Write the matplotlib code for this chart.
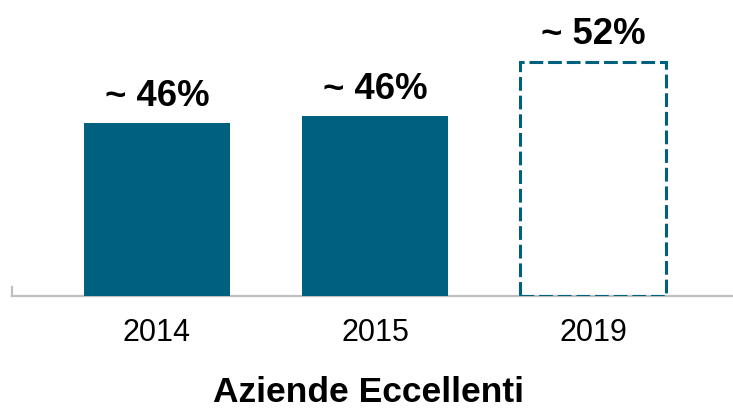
import matplotlib.pyplot as plt

plt.rcParams['font.family'] = ['Liberation Sans', 'DejaVu Sans']

years = ['2014', '2015', '2019']
values = [46.0, 46.7, 52.0]
labels = ['~ 46%', '~ 46%', '~ 52%']
projected = [False, False, True]

base = 29.3
color = '#00607F'

fig = plt.figure(figsize=(7.33, 4.10), dpi=100)
ax = fig.add_axes([12 / 733, 1 - 297 / 410, 1 - 12 / 733, 297 / 410])

x = range(len(years))
heights = [v - base for v in values]
for i, (h, proj) in enumerate(zip(heights, projected)):
    if proj:
        ax.bar(i, h, bottom=base, width=0.67, facecolor='none', edgecolor=color,
               linewidth=2.2, linestyle=(0, (4.5, 1.6)), zorder=3)
    else:
        ax.bar(i, h, bottom=base, width=0.67, color=color, zorder=3)
    ax.annotate(labels[i], (i, values[i]), xytext=(0, 13), textcoords='offset points',
                ha='center', va='baseline', fontsize=26.3, fontweight='bold')

ax.set_xlim(-0.665, 2.642)
ax.set_ylim(base, base + 297 / 10.33)
ax.set_xticks(list(x))
ax.set_xticklabels(years, fontsize=22)
ax.tick_params(axis='x', length=0, pad=15)
ax.set_yticks([])
for s in ['top', 'right']:
    ax.spines[s].set_visible(False)
ax.spines['bottom'].set_color('#BFBFBF')
ax.spines['bottom'].set_linewidth(1.6)
ax.spines['left'].set_color('#BFBFBF')
ax.spines['left'].set_linewidth(1.6)
ax.spines['left'].set_bounds(base, base + 0.9)

fig.text(368 / 733, 1 - 402 / 410, 'Aziende Eccellenti', ha='center', va='baseline',
         fontsize=25.5, fontweight='bold')

fig.savefig('out.png', dpi=100)
